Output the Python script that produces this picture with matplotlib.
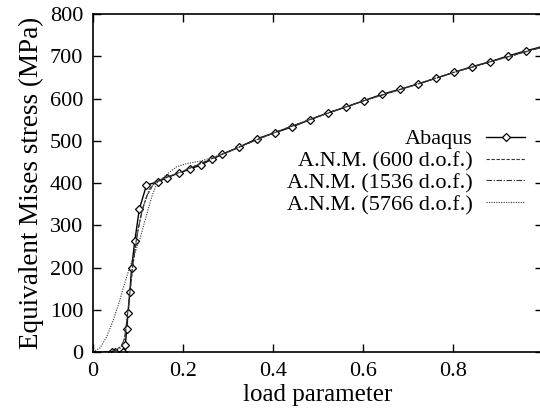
import numpy as np
import matplotlib.pyplot as plt

plt.rcParams['font.family'] = ['Liberation Serif', 'DejaVu Serif']

# Abaqus reference solution (markers)
abaqus_x = [0.042, 0.050, 0.067, 0.072, 0.075, 0.078, 0.082, 0.086, 0.093, 0.103,
            0.119, 0.144, 0.165, 0.192, 0.216, 0.240, 0.264, 0.288, 0.325, 0.365,
            0.405, 0.443, 0.483, 0.522, 0.563, 0.603, 0.643, 0.683, 0.722, 0.763,
            0.803, 0.842, 0.883, 0.924, 0.963, 1.0]
abaqus_y = [0, 0, 0, 17, 55, 92, 142, 200, 263, 338,
            395, 403, 413, 424, 433, 443, 456, 468, 485, 505,
            519, 533, 550, 566, 580, 595, 610, 622, 634, 648,
            662, 675, 687, 701, 713, 723]

# A.N.M. 600 d.o.f.
anm600_x = [0.0, 0.03, 0.05, 0.065, 0.072, 0.080, 0.088, 0.097, 0.108, 0.120, 0.135,
            0.150, 0.200, 0.300, 0.400, 0.500, 0.600, 0.700, 0.800, 0.900, 1.0]
anm600_y = [0, 0, 5, 15, 40, 120, 200, 270, 330, 370, 398,
            408, 428, 474, 518, 557, 594, 627, 661, 692, 722]

# A.N.M. 1536 d.o.f.
anm1536_x = [0.0, 0.04, 0.060, 0.070, 0.078, 0.088, 0.100, 0.112, 0.125, 0.140,
             0.160, 0.200, 0.300, 0.400, 0.500, 0.600, 0.700, 0.800, 0.900, 1.0]
anm1536_y = [0, 0, 8, 30, 100, 200, 290, 345, 385, 402,
             412, 428, 474, 518, 557, 594, 627, 661, 692, 722]

# A.N.M. 5766 d.o.f.
anm5766_x = [0.0, 0.016, 0.030, 0.045, 0.056, 0.067, 0.077, 0.090, 0.105, 0.118,
             0.130, 0.142, 0.164, 0.185, 0.208, 0.240, 0.270, 0.300, 0.400, 0.500,
             0.600, 0.700, 0.800, 0.900, 1.0]
anm5766_y = [0, 10, 35, 75, 110, 150, 185, 225, 270, 320,
             365, 400, 420, 438, 446, 452, 462, 474, 518, 557,
             594, 627, 661, 692, 722]


def plot_stress():
    fig = plt.figure(figsize=(5.4, 4.16), dpi=100)
    ax = fig.add_axes([0.1722, 0.1538, 0.8326, 0.8125])

    ax.plot(abaqus_x, abaqus_y, color='black', lw=1.0, marker='D', ms=4.5,
            mfc='white', mec='black', mew=0.9, label='Abaqus')
    ax.plot(anm600_x, anm600_y, color='#333333', lw=0.8, ls=(0, (3, 1.5)),
            label='A.N.M. (600 d.o.f.)')
    ax.plot(anm1536_x, anm1536_y, color='#333333', lw=0.8, ls=(0, (5, 1.5, 1, 1.5)),
            label='A.N.M. (1536 d.o.f.)')
    ax.plot(anm5766_x, anm5766_y, color='#333333', lw=0.8, ls=(0, (1, 1.2)),
            label='A.N.M. (5766 d.o.f.)')

    ax.set_xlim(0, 1)
    ax.set_ylim(0, 800)
    ax.set_xticks([0, 0.2, 0.4, 0.6, 0.8])
    ax.set_xticklabels(['0', '0.2', '0.4', '0.6', '0.8'])
    ax.set_yticks(range(0, 801, 100))
    ax.tick_params(direction='in', top=True, right=True, length=6, width=1,
                   labelsize=16, pad=7)

    for sp in ax.spines.values():
        sp.set_linewidth(1.2)

    ax.set_xlabel('load parameter', fontsize=18, labelpad=2)
    ax.set_ylabel('Equivalent Mises stress (MPa)', fontsize=19.5, labelpad=4)

    ax.legend(loc='upper right', bbox_to_anchor=(0.961, 0.660), frameon=False,
              markerfirst=False, fontsize=16, handlelength=1.75,
              handletextpad=0.6, labelspacing=0.06, borderpad=0, borderaxespad=0,
              numpoints=1)

    fig.savefig('out.png', dpi=100)


if __name__ == '__main__':
    plot_stress()
